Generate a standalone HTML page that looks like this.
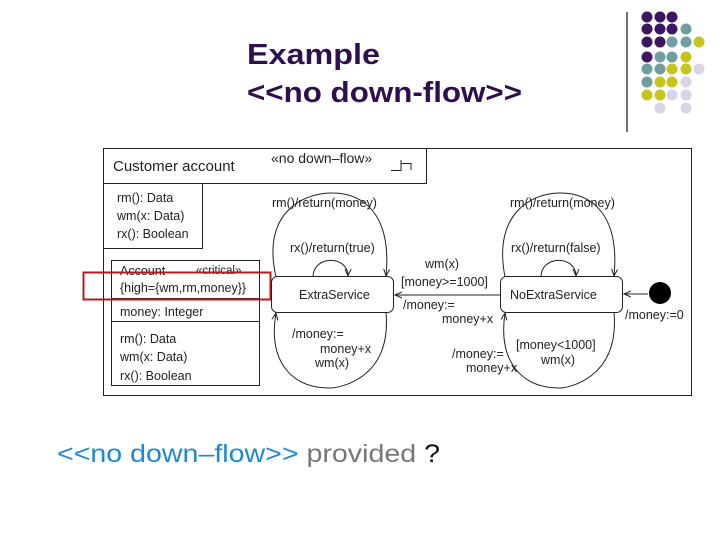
<!DOCTYPE html>
<html><head><meta charset="utf-8"><style>
html,body{margin:0;padding:0;background:#fff;}
svg{display:block;font-family:"Liberation Sans",Arial,sans-serif;}
</style></head><body>
<svg width="720" height="540" viewBox="0 0 720 540" xmlns="http://www.w3.org/2000/svg">
<defs>
<marker id="a" markerWidth="8" markerHeight="8" refX="7" refY="4" orient="auto" markerUnits="userSpaceOnUse">
<path d="M0,1 L7,4 L0,7" fill="none" stroke="#222" stroke-width="1"/></marker>
</defs>
<!-- title -->
<text x="247" y="64" font-size="29" font-weight="bold" fill="#2e0f50" textLength="133" lengthAdjust="spacingAndGlyphs">Example</text>
<text x="247" y="102" font-size="29" font-weight="bold" fill="#2e0f50" textLength="275" lengthAdjust="spacingAndGlyphs">&lt;&lt;no down-flow&gt;&gt;</text>
<!-- dot grid -->
<line x1="627" y1="12" x2="627" y2="132" stroke="#222" stroke-width="1.3"/>
<g>
<circle cx="647" cy="17" r="5.5" fill="#3d1560"/><circle cx="660" cy="17" r="5.5" fill="#3d1560"/><circle cx="672" cy="17" r="5.5" fill="#3d1560"/>
<circle cx="647" cy="29" r="5.5" fill="#3d1560"/><circle cx="660" cy="29" r="5.5" fill="#3d1560"/><circle cx="672" cy="29" r="5.5" fill="#3d1560"/><circle cx="686" cy="29" r="5.5" fill="#6f9ea0"/>
<circle cx="647" cy="42" r="5.5" fill="#3d1560"/><circle cx="660" cy="42" r="5.5" fill="#3d1560"/><circle cx="672" cy="42" r="5.5" fill="#6f9ea0"/><circle cx="686" cy="42" r="5.5" fill="#6f9ea0"/><circle cx="699" cy="42" r="5.5" fill="#c8c41e"/>
<circle cx="647" cy="57" r="5.5" fill="#3d1560"/><circle cx="660" cy="57" r="5.5" fill="#6f9ea0"/><circle cx="672" cy="57" r="5.5" fill="#6f9ea0"/><circle cx="686" cy="57" r="5.5" fill="#c8c41e"/>
<circle cx="647" cy="69" r="5.5" fill="#6f9ea0"/><circle cx="660" cy="69" r="5.5" fill="#6f9ea0"/><circle cx="672" cy="69" r="5.5" fill="#c8c41e"/><circle cx="686" cy="69" r="5.5" fill="#c8c41e"/><circle cx="699" cy="69" r="5.5" fill="#d6d6e8"/>
<circle cx="647" cy="82" r="5.5" fill="#6f9ea0"/><circle cx="660" cy="82" r="5.5" fill="#c8c41e"/><circle cx="672" cy="82" r="5.5" fill="#c8c41e"/><circle cx="686" cy="82" r="5.5" fill="#d6d6e8"/>
<circle cx="647" cy="95" r="5.5" fill="#c8c41e"/><circle cx="660" cy="95" r="5.5" fill="#c8c41e"/><circle cx="672" cy="95" r="5.5" fill="#d6d6e8"/><circle cx="686" cy="95" r="5.5" fill="#d6d6e8"/>
<circle cx="660" cy="108" r="5.5" fill="#d6d6e8"/><circle cx="686" cy="108" r="5.5" fill="#d6d6e8"/>
</g>
<!-- diagram frame -->
<g stroke="#222" stroke-width="1" fill="none">
<rect x="103.5" y="148.5" width="588" height="247"/>
<rect x="103.5" y="148.5" width="323" height="35"/>
<rect x="103.5" y="183.5" width="99" height="65"/>
<rect x="111.5" y="260.5" width="148" height="125"/>
<line x1="111" y1="298.5" x2="259" y2="298.5"/>
<line x1="111" y1="321.5" x2="259" y2="321.5"/>
<path d="M391,170.5 H401 V160 M401,163.5 H411 V170"/>
</g>
<g font-size="12.5" fill="#222">
<text x="113" y="171" font-size="15">Customer account</text>
<text x="271" y="163" font-size="14">«no down–flow»</text>
<text x="117" y="202">rm(): Data</text>
<text x="117" y="220">wm(x: Data)</text>
<text x="117" y="238">rx(): Boolean</text>
<text x="120" y="275">Account</text>
<text x="196" y="274" font-size="11.5">«critical»</text>
<text x="120" y="292">{high={wm,rm,money}}</text>
<text x="120" y="316">money: Integer</text>
<text x="120" y="343">rm(): Data</text>
<text x="120" y="361">wm(x: Data)</text>
<text x="120" y="380">rx(): Boolean</text>
</g>
<rect x="83.5" y="272.5" width="187" height="27" fill="none" stroke="#b01c1c" stroke-width="2"/>
<!-- states -->
<g stroke="#222" stroke-width="1" fill="#fff">
<rect x="271.5" y="276.5" width="122" height="36" rx="6"/>
<rect x="500.5" y="276.5" width="122" height="36" rx="6"/>
</g>
<circle cx="660" cy="293" r="11" fill="#000"/>
<g stroke="#222" stroke-width="1" fill="none" marker-end="url(#a)">
<!-- Extra loops -->
<path d="M276,277 C262,215 300,193 332,193 C364,193 392,215 386,276"/>
<path d="M313,277 C313,255 348,255 348,276"/>
<path d="M386,312 C392,380 338,388 330,388 C290,388 268,360 276,313"/>
<!-- NoExtra loops -->
<path d="M505,277 C493,215 530,193 560,193 C592,193 620,215 614,276"/>
<path d="M541,277 C541,255 576,255 576,276"/>
<path d="M614,312 C620,380 566,388 560,388 C520,388 498,360 505,313"/>
<!-- transitions -->
<path d="M500,295 H395"/>
<path d="M648,294 H624"/>
</g>
<g font-size="12.5" fill="#222">
<text x="272" y="207">rm()/return(money)</text>
<text x="290" y="252">rx()/return(true)</text>
<text x="299" y="299">ExtraService</text>
<text x="292" y="338">/money:=</text>
<text x="320" y="353">money+x</text>
<text x="315" y="367">wm(x)</text>
<text x="510" y="207">rm()/return(money)</text>
<text x="511" y="252">rx()/return(false)</text>
<text x="510" y="299">NoExtraService</text>
<text x="425" y="268">wm(x)</text>
<text x="401" y="286">[money&gt;=1000]</text>
<text x="403" y="309">/money:=</text>
<text x="442" y="323">money+x</text>
<text x="516" y="349">[money&lt;1000]</text>
<text x="541" y="364">wm(x)</text>
<text x="452" y="358">/money:=</text>
<text x="466" y="372">money+x</text>
<text x="625" y="319">/money:=0</text>
</g>
<!-- bottom -->
<text x="57" y="462" font-size="25" textLength="383" lengthAdjust="spacingAndGlyphs"><tspan fill="#1e88d8">&lt;&lt;no down–flow&gt;&gt; </tspan><tspan fill="#777">provided </tspan><tspan fill="#111">?</tspan></text>
</svg>
</body></html>
